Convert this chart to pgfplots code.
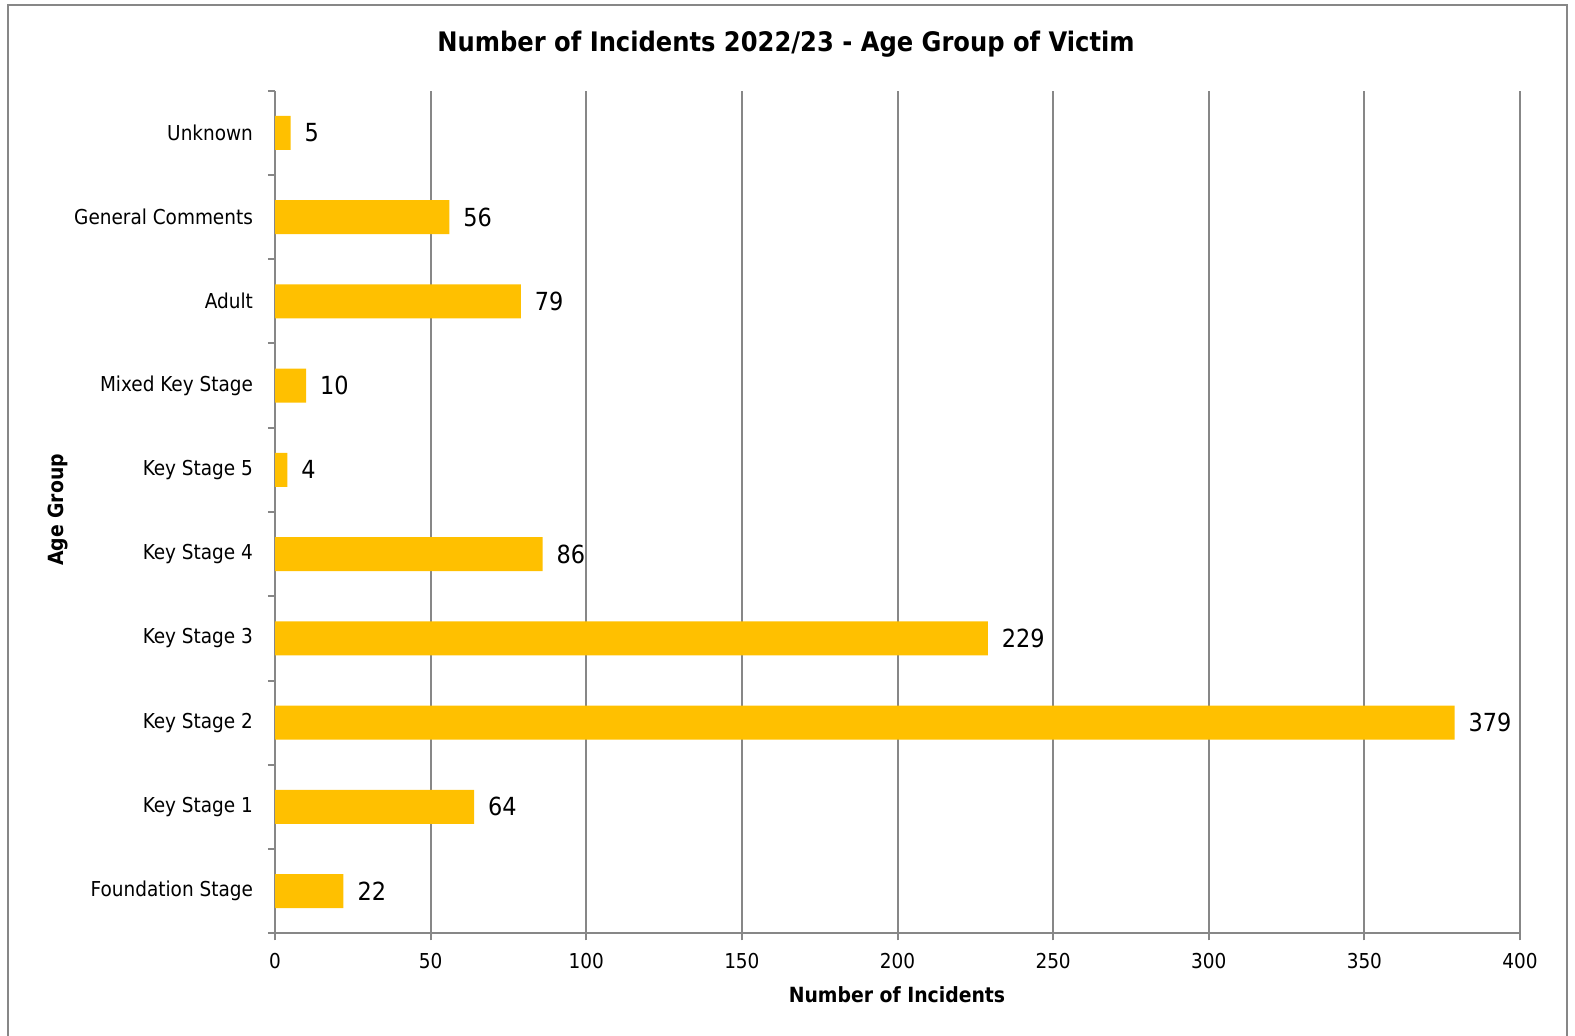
\documentclass[border=0pt]{standalone}
\usepackage{pgfplots}
\pgfplotsset{compat=1.18}
\usepackage{fontspec}
\setmainfont{DejaVu Sans Condensed}
\definecolor{gridgray}{HTML}{878787}
\definecolor{bargold}{HTML}{FFC000}
\begin{document}
\begin{tikzpicture}
\useasboundingbox (0bp,0bp) rectangle (787.5bp,518bp);
\draw[gridgray,line width=1bp] (4bp,-2bp) -- (4bp,515.5bp) -- (783.5bp,515.5bp) -- (783.5bp,-2bp);
\begin{axis}[
  at={(137.5bp,51.35bp)}, anchor=south west,
  scale only axis, width=622.5bp, height=421.3bp,
  xbar, bar width=17bp,
  xmin=0, xmax=400, ymin=-0.5, ymax=9.5,
  xtick={0,50,...,400},
  ytick={0,...,9},
  yticklabels={Foundation Stage,Key Stage 1,Key Stage 2,Key Stage 3,Key Stage 4,Key Stage 5,Mixed Key Stage,Adult,General Comments,Unknown},
  minor ytick={-0.5,0.5,...,9.5},
  axis x line*=bottom, axis y line*=left,
  axis line style={gridgray,line width=1bp},
  xmajorgrids, grid style={gridgray,line width=1bp},
  tick align=outside,
  major tick length=3.5bp, minor tick length=3.5bp,
  major y tick style={draw=none},
  minor y tick style={gridgray,line width=1bp},
  major x tick style={gridgray,line width=1bp},
  tick label style={font=\fontsize{10.3}{12}\selectfont, text=black},
  /pgf/number format/assume math mode=true,
  xticklabel style={yshift=-3.2bp},
  yticklabel style={xshift=-4bp},
  nodes near coords,
  nodes near coords style={font=\fontsize{12.5}{14}\selectfont, anchor=west, xshift=3.5bp, text=black},
  point meta=x,
]
\addplot[fill=bargold, draw=none] coordinates {
  (22,0) (64,1) (379,2) (229,3) (86,4) (4,5) (10,6) (79,7) (56,8) (5,9)
};
\end{axis}
\node[font=\bfseries\fontsize{13.5}{16}\selectfont] at (393bp,496bp) {Number of Incidents 2022/23 - Age Group of Victim};
\node[font=\bfseries\fontsize{10.5}{12}\selectfont] at (448.5bp,20.5bp) {Number of Incidents};
\node[font=\bfseries\fontsize{10.5}{12}\selectfont, rotate=90] at (29bp,263bp) {Age Group};
\end{tikzpicture}
\end{document}
